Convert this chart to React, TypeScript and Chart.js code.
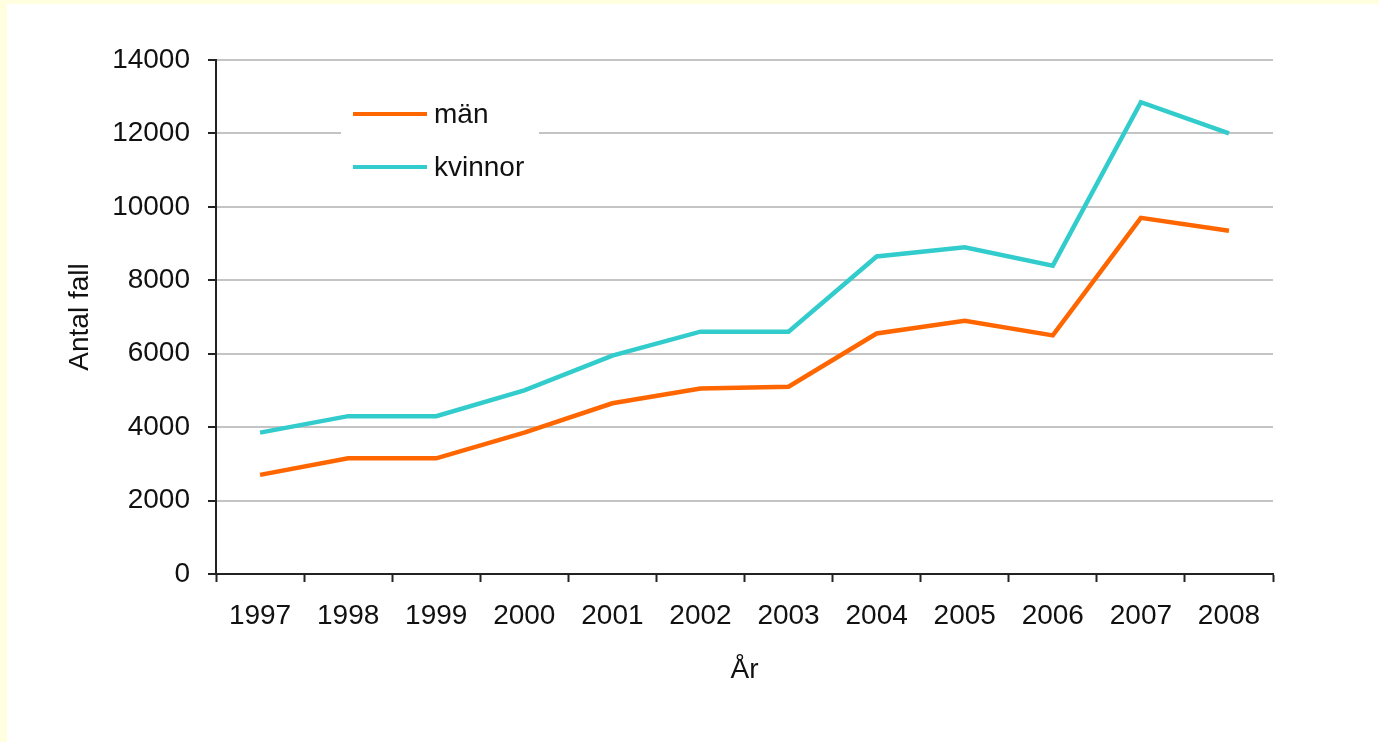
import React, { useEffect, useRef } from "react";
import { Chart, registerables } from "chart.js";

Chart.register(...registerables);

const years = ["1997", "1998", "1999", "2000", "2001", "2002", "2003", "2004", "2005", "2006", "2007", "2008"];
const man = [2700, 3150, 3150, 3850, 4650, 5050, 5100, 6550, 6900, 6500, 9700, 9350];
const kvinnor = [3850, 4300, 4300, 5000, 5950, 6600, 6600, 8650, 8900, 8400, 12850, 12000];
const seriesLabels = ["män", "kvinnor"];
const seriesColors = ["#FF6600", "#33CCCC"];

const FONT = "'Liberation Sans', Arial, sans-serif";
const FS = 28;

const legendPlugin = {
  id: "insideLegend",
  beforeDatasetsDraw(chart: any) {
    const ctx = chart.ctx;
    ctx.save();
    ctx.fillStyle = "#ffffff";
    ctx.fillRect(341, 92, 198, 98);
    const rows = [114, 167];
    chart.data.datasets.forEach((ds: any, i: number) => {
      const y = rows[i];
      ctx.strokeStyle = ds.borderColor;
      ctx.lineWidth = 4;
      ctx.beginPath();
      ctx.moveTo(353, y);
      ctx.lineTo(427, y);
      ctx.stroke();
      ctx.fillStyle = "#111";
      ctx.font = `${FS}px ${FONT}`;
      ctx.textBaseline = "middle";
      ctx.textAlign = "left";
      ctx.fillText(ds.label, 434, y + 1);
    });
    ctx.restore();
  },
};

export default function App() {
  const ref = useRef<HTMLCanvasElement>(null);
  useEffect(() => {
    if (!ref.current) return;
    const chart = new Chart(ref.current, {
      type: "line",
      data: {
        labels: years,
        datasets: [
          { label: seriesLabels[0], data: man, borderColor: seriesColors[0], backgroundColor: seriesColors[0], borderWidth: 4.5, pointRadius: 0, tension: 0, fill: false },
          { label: seriesLabels[1], data: kvinnor, borderColor: seriesColors[1], backgroundColor: seriesColors[1], borderWidth: 4.5, pointRadius: 0, tension: 0, fill: false },
        ],
      },
      options: {
        responsive: false,
        animation: false,
        devicePixelRatio: 1,
        layout: { padding: { top: 60, right: 106, left: 0, bottom: 0 } },
        plugins: {
          legend: { display: false },
          tooltip: { enabled: false },
        },
        scales: {
          x: {
            type: "category",
            offset: true,
            afterFit: (s: any) => { s.height = 168; },
            grid: { offset: true, drawOnChartArea: false, tickLength: 8, tickColor: "#222", tickWidth: 2 },
            border: { display: true, color: "#222", width: 2 },
            ticks: { color: "#111", padding: 17, font: { family: FONT, size: FS }, maxRotation: 0 },
            title: { display: true, text: "År", color: "#111", font: { family: FONT, size: FS }, padding: { top: 0, bottom: 55 } },
          },
          y: {
            min: 0,
            max: 14000,
            afterFit: (s: any) => { s.width = 216; },
            grid: { color: "#c4c4c4", lineWidth: 2, tickLength: 8, tickColor: "#222", tickWidth: 2 },
            border: { display: true, color: "#222", width: 2 },
            ticks: { stepSize: 2000, color: "#111", padding: 18, font: { family: FONT, size: FS }, callback: (v: any) => String(v) },
            title: { display: true, text: "Antal fall", color: "#111", font: { family: FONT, size: FS }, padding: { top: 63, bottom: 0 } },
          },
        },
      },
      plugins: [legendPlugin],
    } as any);
    return () => chart.destroy();
  }, []);
  return (
    <div style={{ position: "fixed", left: 0, top: 0, width: 1379, height: 742, background: "#FFFFE0" }}>
      <div style={{ position: "absolute", left: 7, top: 4, right: 0, bottom: 0, background: "#ffffff" }} />
      <canvas ref={ref} width={1379} height={742} style={{ position: "absolute", left: 0, top: 0, width: 1379, height: 742 }} />
    </div>
  );
}
